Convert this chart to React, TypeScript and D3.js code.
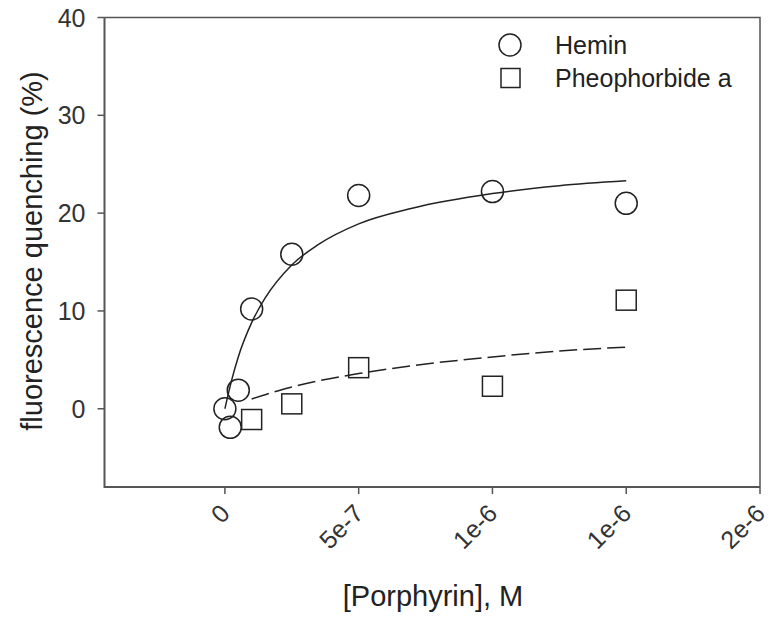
import * as d3 from 'd3'

// measured points
const heminConc = [0, 2e-8, 5e-8, 1e-7, 2.5e-7, 5e-7, 1e-6, 1.5e-6]
const heminQuench = [0, -1.9, 1.9, 10.2, 15.8, 21.8, 22.2, 21.0]
const pheoConc = [1e-7, 2.5e-7, 5e-7, 1e-6, 1.5e-6]
const pheoQuench = [-1.1, 0.5, 4.2, 2.3, 11.1]

// fitted curves
const heminFitX = [0, 2.5e-8, 5e-8, 1e-7, 1.5e-7, 2.5e-7, 3.5e-7, 5e-7, 7e-7, 1e-6, 1.25e-6, 1.5e-6]
const heminFitY = [0, 2.9, 5.3, 8.8, 11.3, 14.7, 16.8, 18.9, 20.5, 22.0, 22.8, 23.3]
const pheoFitX = [1e-7, 2e-7, 3.5e-7, 5e-7, 7e-7, 1e-6, 1.25e-6, 1.5e-6]
const pheoFitY = [1.0, 1.85, 2.85, 3.6, 4.4, 5.3, 5.9, 6.3]

const xTickValues = [0, 5e-7, 1e-6, 1.5e-6, 2e-6]
const xTickLabels = ['0', '5e-7', '1e-6', '1e-6', '2e-6']
const yTickValues = [0, 10, 20, 30, 40]

const legendLabels = ['Hemin', 'Pheophorbide a']

const W = 769
const H = 617
const plot = { left: 104.5, right: 760, top: 17.5, bottom: 487 }
const ink = '#222'
const axisColor = '#555'

export default function App() {
  const x = d3.scaleLinear().domain([-4.5e-7, 2e-6]).range([plot.left, plot.right])
  const y = d3.scaleLinear().domain([-8, 40]).range([plot.bottom, plot.top])

  const line = d3
    .line<[number, number]>()
    .x((d) => x(d[0]))
    .y((d) => y(d[1]))
    .curve(d3.curveMonotoneX)

  const heminFit = heminFitX.map((v, i) => [v, heminFitY[i]] as [number, number])
  const pheoFit = pheoFitX.map((v, i) => [v, pheoFitY[i]] as [number, number])

  return (
    <svg
      width={W}
      height={H}
      style={{ position: 'absolute', left: 0, top: 0 }}
      fontFamily="'Liberation Sans', Arial, sans-serif"
    >
      <rect width={W} height={H} fill="#fff" />

      {/* frame */}
      <g stroke={axisColor} strokeWidth={2} fill="none">
        <path d={`M${plot.left},${plot.top}H${plot.right}V${plot.bottom}`} strokeWidth={1.5} />
        <path d={`M${plot.left},${plot.top}V${plot.bottom}H${plot.right}`} />
      </g>

      {/* y axis */}
      <g>
        {yTickValues.map((v) => (
          <g key={v} transform={`translate(${plot.left},${y(v)})`}>
            <line x2={-7} stroke={axisColor} strokeWidth={1.5} />
            <text x={-19} dy="0.36em" textAnchor="end" fontSize={25} fill="#333">
              {v}
            </text>
          </g>
        ))}
      </g>

      {/* x axis */}
      <g>
        {xTickValues.map((v, i) => (
          <g key={v}>
            <line
              x1={x(v)}
              x2={x(v)}
              y1={plot.bottom}
              y2={plot.bottom + 7}
              stroke={axisColor}
              strokeWidth={1.5}
            />
            <text
              transform={`translate(${x(v) + 6.5},${plot.bottom + 28}) rotate(-45)`}
              textAnchor="end"
              fontSize={25}
              fill="#333"
            >
              {xTickLabels[i]}
            </text>
          </g>
        ))}
      </g>

      {/* axis titles */}
      <text x={433} y={606} textAnchor="middle" fontSize={29} fill="#222">
        [Porphyrin], M
      </text>
      <text
        transform={`translate(42,251) rotate(-90)`}
        textAnchor="middle"
        fontSize={29}
        fill="#222"
      >
        fluorescence quenching (%)
      </text>

      {/* fits */}
      <path d={line(heminFit)!} fill="none" stroke={ink} strokeWidth={1.5} />
      <path
        d={line(pheoFit)!}
        fill="none"
        stroke={ink}
        strokeWidth={1.5}
        strokeDasharray="18,6"
      />

      {/* data */}
      <g fill="none" stroke={ink} strokeWidth={1.5}>
        {heminConc.map((c, i) => (
          <circle key={`h${i}`} cx={x(c)} cy={y(heminQuench[i])} r={11} />
        ))}
        {pheoConc.map((c, i) => (
          <rect key={`p${i}`} x={x(c) - 10} y={y(pheoQuench[i]) - 10} width={20} height={20} />
        ))}
      </g>

      {/* legend */}
      <g>
        <circle cx={510} cy={45} r={11} fill="none" stroke={ink} strokeWidth={1.5} />
        <text x={555} y={54} fontSize={25} fill="#222">
          {legendLabels[0]}
        </text>
        <rect x={501} y={68.5} width={19} height={19} fill="none" stroke={ink} strokeWidth={1.5} />
        <text x={555} y={87} fontSize={25} fill="#222">
          {legendLabels[1]}
        </text>
      </g>
    </svg>
  )
}
